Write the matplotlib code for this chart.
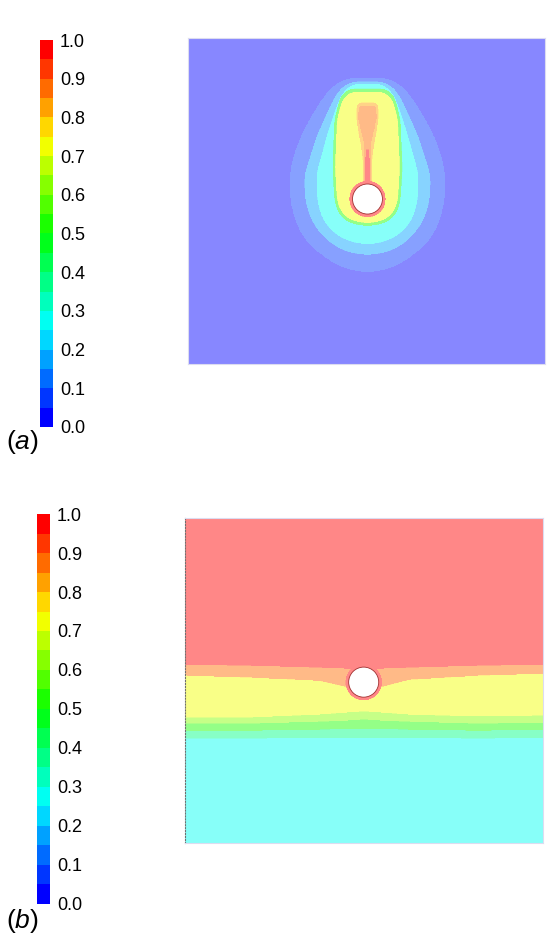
import numpy as np
import matplotlib
matplotlib.use('Agg')
import matplotlib.pyplot as plt
from matplotlib.colors import ListedColormap, BoundaryNorm
from matplotlib.patches import Circle
import matplotlib.cm as cm

plt.rcParams['font.family'] = ['Liberation Sans', 'DejaVu Sans']
plt.rcParams['mathtext.fontset'] = 'custom'
plt.rcParams['mathtext.it'] = 'Liberation Sans:italic'
plt.rcParams['mathtext.rm'] = 'Liberation Sans'

# colour scale: 20 bands between 0 and 1
levels = np.linspace(0, 1, 21)
tick_values = np.round(np.linspace(0, 1, 11), 1)
anchor_pos = [0.0, 0.25, 0.5, 0.75, 1.0]
anchor_rgb = [(0, 0, 1), (0, 1, 1), (0, 1, 0), (1, 1, 0), (1, 0, 0)]

# ---- panel (a): nested regions around the cylinder (units of D, dy up from centre)
a_size = (11.2, 10.2)
a_cyl = (5.63, 5.16)
cyl_r = 0.47
ring_r = 0.55

a_outer_dy = [3.78, 3.66, 3.41, 3.03, 2.47, 1.84, 1.22, 0.66, -0.03, -0.59, -1.03, -1.34, -1.66, -1.97, -2.13, -2.22, -2.28]
a_outer_hw = [0.63, 0.88, 1.19, 1.47, 1.81, 2.13, 2.34, 2.44, 2.41, 2.28, 2.09, 1.88, 1.53, 1.09, 0.75, 0.47, 0.0]
a_mid_dy = [3.66, 3.41, 3.03, 2.0, 0.75, -0.03, -0.59, -1.03, -1.34, -1.53, -1.66, -1.75]
a_mid_hw = [0.56, 0.88, 1.09, 1.56, 1.97, 1.94, 1.78, 1.5, 1.19, 0.88, 0.56, 0.0]
a_cyan_dy = [3.59, 3.34, 3.03, 2.0, 0.75, -0.03, -0.59, -0.97, -1.22, -1.34, -1.41]
a_cyan_hw = [0.5, 0.75, 0.91, 1.25, 1.59, 1.56, 1.41, 1.13, 0.78, 0.44, 0.0]
a_green_dy = [3.44, 3.19, 2.47, 0.97, -0.03, -0.41, -0.63, -0.75, -0.84]
a_green_hw = [0.59, 0.84, 1.02, 1.08, 1.02, 0.91, 0.72, 0.5, 0.0]
a_yellow_dy = [3.34, 3.09, 2.47, 0.97, -0.03, -0.34, -0.53, -0.66, -0.75]
a_yellow_hw = [0.53, 0.78, 0.94, 1.0, 0.94, 0.84, 0.69, 0.47, 0.0]
a_glow_dy = [3.0, 2.63, 2.16, 1.69, 1.22, 0.44]
a_glow_hw = [0.31, 0.34, 0.28, 0.19, 0.13, 0.13]
a_plume_dy = [2.91, 2.53, 2.16, 1.84, 1.22, 0.44]
a_plume_hw = [0.25, 0.27, 0.19, 0.11, 0.08, 0.08]
a_stem_dy = [1.53, 1.16, 0.44]
a_stem_hw = [0.03, 0.06, 0.07]

# (band, dy, half-width, edge rounding in grid cells)
a_regions = [(1, a_outer_dy, a_outer_hw, 20), (3, a_mid_dy, a_mid_hw, 18),
             (5, a_cyan_dy, a_cyan_hw, 16), (10, a_green_dy, a_green_hw, 12),
             (14, a_yellow_dy, a_yellow_hw, 12), (16, a_glow_dy, a_glow_hw, 7),
             (17, a_plume_dy, a_plume_hw, 5), (19, a_stem_dy, a_stem_hw, 0)]

# ---- panel (b): layer interfaces y(x), from top to bottom
b_size = (11.2, 10.16)
b_cyl = (5.59, 5.03)
b_x = [0, 2.0, 4.2, 5.0, 5.6, 6.2, 7.0, 9.2, 11.2]
b_if1 = [5.59, 5.56, 5.5, 5.47, 5.47, 5.47, 5.5, 5.56, 5.59]
b_if2 = [5.25, 5.19, 5.09, 4.91, 4.78, 4.91, 5.12, 5.25, 5.31]
b_if3 = [3.94, 3.94, 4.03, 4.09, 4.13, 4.09, 4.03, 3.97, 4.0]
b_if4 = [3.75, 3.75, 3.81, 3.84, 3.88, 3.84, 3.81, 3.75, 3.78]
b_if5 = [3.53, 3.53, 3.56, 3.59, 3.59, 3.59, 3.56, 3.53, 3.56]
b_if6 = [3.28, 3.28, 3.31, 3.31, 3.31, 3.31, 3.31, 3.28, 3.31]
b_bands = [19, 17, 14, 12, 10, 7, 5]

# colormaps: full for the bar, washed-out for the field
t = np.arange(20) / 19
rgb = np.array([[np.interp(v, anchor_pos, [c[k] for c in anchor_rgb]) for k in range(3)] for v in t])
cmap_full = ListedColormap(rgb)
cmap_light = ListedColormap(1 - 0.47 * (1 - rgb))
norm = BoundaryNorm(levels, 20)
band_mid = (levels[:-1] + levels[1:]) / 2


def box(A, r, axis):
    n = A.shape[axis]
    P = np.concatenate([np.take(A, [0] * (r + 1), axis=axis), A,
                        np.take(A, [n - 1] * r, axis=axis)], axis=axis)
    C = np.cumsum(P, axis=axis)
    hi = np.take(C, np.arange(2 * r + 1, n + 2 * r + 1), axis=axis)
    lo = np.take(C, np.arange(0, n), axis=axis)
    return (hi - lo) / (2 * r + 1)


def round_edges(M, r):
    if r == 0:
        return M
    A = M.astype(float)
    for axis in (0, 1):
        A = box(box(A, r, axis), r, axis)
    return A > 0.5


def field_a():
    x = np.linspace(0, a_size[0], 900)
    y = np.linspace(0, a_size[1], 820)
    X, Y = np.meshgrid(x, y)
    F = np.full(X.shape, band_mid[0])
    for band, dy, hw, r in a_regions:
        order = np.argsort(dy)
        half = np.interp(Y - a_cyl[1], np.array(dy)[order], np.array(hw)[order], left=-1, right=-1)
        inside = round_edges(np.abs(X - a_cyl[0]) <= half, r)
        F = np.where(inside, np.maximum(F, band_mid[band]), F)
    R = np.hypot(X - a_cyl[0], Y - a_cyl[1])
    F = np.where(R < ring_r, band_mid[19], F)
    return X, Y, F


def field_b():
    x = np.linspace(0, b_size[0], 900)
    y = np.linspace(0, b_size[1], 820)
    X, Y = np.meshgrid(x, y)
    count = np.zeros(X.shape, dtype=int)
    for ifc in [b_if1, b_if2, b_if3, b_if4, b_if5, b_if6]:
        count += (Y < np.interp(X, b_x, ifc)).astype(int)
    F = band_mid[np.array(b_bands)[count]]
    R = np.hypot(X - b_cyl[0], Y - b_cyl[1])
    F = np.where(R < ring_r, band_mid[19], F)
    return X, Y, F


fig = plt.figure(figsize=(5.47, 9.39), dpi=100)

panels = [
    (field_a, a_size, a_cyl, [0.3437, 0.6124, 0.6527, 0.3472], [0.0731, 0.5453, 0.0238, 0.4121], '(a)', 442),
    (field_b, b_size, b_cyl, [0.3382, 0.1022, 0.6545, 0.3461], [0.0676, 0.0373, 0.0238, 0.4153], '(b)', 921),
]

for make, size, cyl, pos, cpos, tag, ty in panels:
    ax = fig.add_axes(pos)
    X, Y, F = make()
    ax.contourf(X, Y, F, levels=levels, cmap=cmap_light, norm=norm)
    ax.add_patch(Circle(cyl, cyl_r, facecolor='white', edgecolor='#a03030', lw=0.6, zorder=3))
    ax.set_xlim(0, size[0])
    ax.set_ylim(0, size[1])
    ax.set_xticks([])
    ax.set_yticks([])
    for s in ax.spines.values():
        s.set_color('#dcdcf0')
        s.set_linewidth(0.8)
    if tag == '(b)':
        ax.spines['left'].set_color('#707070')
        ax.spines['left'].set_linestyle(':')

    cax = fig.add_axes(cpos)
    cb = fig.colorbar(cm.ScalarMappable(norm=norm, cmap=cmap_full), cax=cax, ticks=tick_values)
    cb.outline.set_visible(False)
    cb.minorticks_off()
    cb.ax.set_yticklabels(['%.1f' % v for v in tick_values])
    cb.ax.tick_params(which='both', length=0, labelsize=13, pad=5)

    fig.text(22 / 547, 1 - ty / 939, '(' + r'$\mathit{' + tag[1] + '}$' + ')',
             ha='center', va='center', fontsize=19)

fig.savefig('out.png', dpi=100)
